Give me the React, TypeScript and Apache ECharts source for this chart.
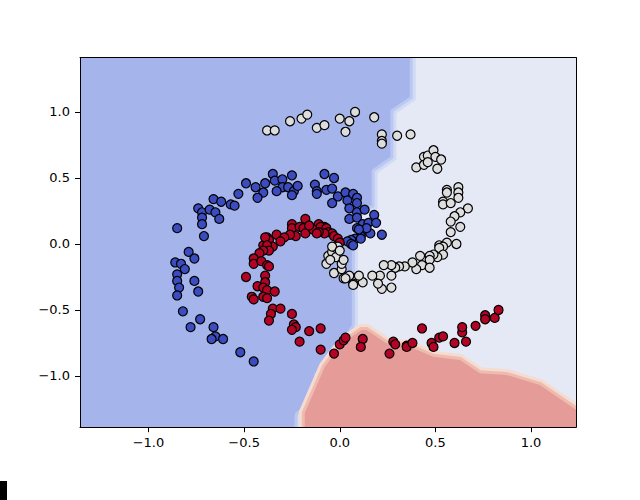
import React, { useEffect, useRef } from "react";
import * as echarts from "echarts";

const xTicks = [-1.0, -0.5, 0.0, 0.5, 1.0];
const yTicks = [-1.0, -0.5, 0.0, 0.5, 1.0];
const xRange = [-1.358, 1.235];
const yRange = [-1.388, 1.412];

const whitePoints = [
  [-0.38, 0.86], [-0.34, 0.86], [-0.26, 0.93], [-0.2, 0.95], [-0.17, 0.98], [-0.12, 0.88], [-0.08, 0.9],
  [0.0, 0.95], [0.05, 0.93], [0.08, 1.0], [0.03, 0.85], [0.18, 0.96], [0.22, 0.83], [0.22, 0.78], [0.22, 0.76],
  [0.3, 0.82], [0.37, 0.83], [0.4, 0.58], [0.44, 0.66], [0.44, 0.6], [0.46, 0.67], [0.49, 0.71], [0.5, 0.66],
  [0.53, 0.64], [0.51, 0.57], [0.46, 0.62], [0.56, 0.41], [0.56, 0.39], [0.62, 0.43], [0.62, 0.39], [0.62, 0.35],
  [0.54, 0.32], [0.54, 0.3], [0.58, 0.31], [0.67, 0.27], [0.63, 0.24], [0.6, 0.21], [0.58, 0.17], [0.63, 0.13],
  [0.58, 0.09], [0.52, -0.01], [0.56, 0.01], [0.61, 0.0], [0.54, -0.02], [0.52, -0.03], [0.54, -0.08],
  [0.51, -0.1], [0.49, -0.08], [0.47, -0.09], [0.47, -0.12], [0.42, -0.09], [0.43, -0.16], [0.4, -0.19],
  [0.47, -0.18], [0.38, -0.14], [0.34, -0.17], [0.31, -0.17], [0.29, -0.18], [0.27, -0.16], [0.27, -0.24],
  [0.23, -0.16], [0.21, -0.24], [0.22, -0.34], [0.2, -0.3], [0.17, -0.24], [0.27, -0.33], [0.12, -0.29],
  [0.08, -0.26], [0.07, -0.3], [0.05, -0.24], [0.02, -0.26], [-0.03, -0.22], [0.01, -0.19], [0.01, -0.15],
  [-0.07, -0.15], [-0.06, -0.09], [-0.04, -0.06], [-0.02, -0.1], [-0.02, -0.03], [-0.01, -0.02], [0.1, -0.24],
  [0.03, -0.26], [0.07, -0.31], [-0.04, -0.02], [0.0, -0.05], [-0.05, -0.12], [0.02, -0.12],
];

const bluePoints = [
  [-0.85, 0.12], [-0.71, 0.06], [-0.74, 0.27], [-0.72, 0.24], [-0.72, 0.2], [-0.72, 0.15], [-0.68, 0.26],
  [-0.65, 0.24], [-0.63, 0.19], [-0.66, 0.34], [-0.62, 0.32], [-0.57, 0.3], [-0.55, 0.29], [-0.53, 0.38],
  [-0.49, 0.46], [-0.44, 0.43], [-0.4, 0.39], [-0.43, 0.35], [-0.39, 0.46], [-0.35, 0.53], [-0.34, 0.48],
  [-0.3, 0.49], [-0.3, 0.43], [-0.33, 0.4], [-0.27, 0.43], [-0.25, 0.52], [-0.24, 0.4], [-0.25, 0.37],
  [-0.22, 0.44], [-0.13, 0.45], [-0.12, 0.4], [-0.12, 0.38], [-0.08, 0.53], [-0.07, 0.41], [-0.03, 0.5],
  [-0.04, 0.42], [-0.01, 0.36], [-0.04, 0.31], [0.03, 0.39], [0.04, 0.33], [0.07, 0.38], [0.09, 0.35],
  [0.09, 0.31], [0.05, 0.27], [0.09, 0.24], [0.13, 0.26], [0.05, 0.19], [0.09, 0.2], [0.12, 0.15], [0.09, 0.12],
  [0.15, 0.16], [0.18, 0.22], [0.19, 0.16], [0.12, 0.1], [0.16, 0.08], [0.22, 0.07], [0.11, 0.06], [0.08, 0.04],
  [0.06, 0.03], [0.04, 0.02], [0.06, 0.0], [0.11, 0.04], [0.14, 0.12], [0.1, 0.11], [0.07, -0.01],
  [-0.79, -0.06], [-0.76, -0.11], [-0.86, -0.14], [-0.83, -0.15], [-0.81, -0.19], [-0.85, -0.23], [-0.85, -0.28],
  [-0.76, -0.28], [-0.84, -0.33], [-0.74, -0.36], [-0.85, -0.39], [-0.82, -0.51], [-0.73, -0.57], [-0.78, -0.63],
  [-0.66, -0.63], [-0.65, -0.7], [-0.67, -0.72], [-0.61, -0.72], [-0.52, -0.82], [-0.45, -0.89],
];

const redPoints = [
  [-0.18, 0.19], [-0.25, 0.15], [-0.11, 0.15], [-0.08, 0.13], [-0.33, 0.07], [-0.38, 0.05], [-0.4, -0.01],
  [-0.25, 0.12], [-0.21, 0.13], [-0.19, 0.12], [-0.18, 0.08], [-0.23, 0.06], [-0.26, 0.07], [-0.29, 0.05],
  [-0.31, 0.02], [-0.37, 0.03], [-0.39, 0.05], [-0.35, -0.02], [-0.38, -0.01], [-0.37, -0.05], [-0.4, -0.05],
  [-0.42, -0.07], [-0.45, -0.11], [-0.45, -0.15], [-0.41, -0.13], [-0.38, -0.16], [-0.14, 0.11], [-0.1, 0.13],
  [-0.07, 0.12], [-0.06, 0.09], [-0.04, 0.08], [-0.03, 0.06], [-0.01, 0.04], [0.0, 0.01], [-0.08, 0.08],
  [-0.11, 0.09], [-0.16, 0.14], [-0.12, 0.08], [-0.37, -0.17], [-0.49, -0.25], [-0.43, -0.32], [-0.39, -0.24],
  [-0.39, -0.29], [-0.4, -0.33], [-0.38, -0.35], [-0.34, -0.36], [-0.46, -0.4], [-0.45, -0.42], [-0.4, -0.4],
  [-0.38, -0.41], [-0.35, -0.49], [-0.31, -0.49], [-0.36, -0.53], [-0.37, -0.58], [-0.25, -0.53], [-0.24, -0.61],
  [-0.23, -0.63], [-0.25, -0.65], [-0.16, -0.66], [-0.1, -0.64], [-0.21, -0.74], [-0.1, -0.8], [-0.03, -0.83],
  [0.0, -0.76], [0.02, -0.73], [0.03, -0.71], [0.12, -0.72], [0.11, -0.78], [0.26, -0.83], [0.28, -0.74],
  [0.29, -0.76], [0.35, -0.77], [0.35, -0.78], [0.38, -0.75], [0.43, -0.64], [0.48, -0.75], [0.49, -0.78],
  [0.52, -0.71], [0.54, -0.7], [0.6, -0.75], [0.66, -0.74], [0.64, -0.67], [0.64, -0.63], [0.71, -0.62],
  [0.76, -0.54], [0.76, -0.57], [0.81, -0.56], [0.83, -0.5],
];

const blueRegion = [
  [-1.6, 1.6], [0.366, 1.6], [0.366, 1.116], [0.265, 1.015], [0.265, 0.661], [0.166, 0.561], [0.166, 0.295],
  [0.063, 0.227], [0.063, -0.614], [-0.07, -0.904], [-0.131, -0.98], [-0.148, -1.182], [-0.235, -1.283],
  [-0.244, -1.6], [-1.6, -1.6],
];

const redRegion = [
  [-0.183, -1.6], [-0.183, -1.28], [-0.078, -0.93], [0.016, -0.75], [0.113, -0.652], [0.14, -0.652],
  [0.244, -0.752], [0.366, -0.778], [0.488, -0.854], [0.628, -0.879], [0.732, -0.98], [0.872, -0.992],
  [1.046, -1.068], [1.238, -1.258], [1.4, -1.38], [1.4, -1.6],
];

const regionStyles = [
  { poly: blueRegion, fill: "#a5b4ea", band1: "#d2dbf6", band2: "#bac8f2" },
  { poly: redRegion, fill: "#e59c99", band1: "#f5dcd3", band2: "#eebcae" },
];

const fmt = (v: number) => v.toFixed(1).replace("-", "\u2212");
const FONT = "DejaVu Sans";

export default function App() {
  const ref = useRef<HTMLDivElement>(null);
  useEffect(() => {
    if (!ref.current) return;
    const chart = echarts.init(ref.current, null, { renderer: "svg" });
    const scatter = (name: string, data: number[][], color: string) => ({
      type: "scatter",
      name,
      data,
      symbol: "circle",
      symbolSize: 9,
      itemStyle: { color, borderColor: "#000", borderWidth: 1.2, opacity: 1 },
      z: 5,
    });
    chart.setOption({
      animation: false,
      grid: {
        left: 80,
        top: 57.6,
        width: 496,
        height: 369.6,
        show: true,
        backgroundColor: "#e4e9f5",
        borderWidth: 0,
      },
      xAxis: [
        {
          type: "value",
          min: xRange[0],
          max: xRange[1],
          z: 10,
          axisLine: { show: true, onZero: false, lineStyle: { color: "#000", width: 1 } },
          axisTick: { show: true, length: 5, inside: false, customValues: xTicks, lineStyle: { color: "#000" } },
          axisLabel: {
            show: true,
            customValues: xTicks,
            formatter: fmt,
            margin: 9,
            color: "#000",
            fontFamily: FONT,
            fontSize: 13,
          },
          splitLine: { show: false },
        },
        {
          type: "value",
          position: "top",
          min: xRange[0],
          max: xRange[1],
          z: 10,
          axisLine: { show: true, onZero: false, lineStyle: { color: "#000", width: 1 } },
          axisTick: { show: false },
          axisLabel: { show: false },
          splitLine: { show: false },
        },
      ],
      yAxis: [
        {
          type: "value",
          min: yRange[0],
          max: yRange[1],
          z: 10,
          axisLine: { show: true, onZero: false, lineStyle: { color: "#000", width: 1 } },
          axisTick: { show: true, length: 5, inside: false, customValues: yTicks, lineStyle: { color: "#000" } },
          axisLabel: {
            show: true,
            customValues: yTicks,
            formatter: fmt,
            margin: 10,
            color: "#000",
            fontFamily: FONT,
            fontSize: 13,
          },
          splitLine: { show: false },
        },
        {
          type: "value",
          position: "right",
          min: yRange[0],
          max: yRange[1],
          z: 10,
          axisLine: { show: true, onZero: false, lineStyle: { color: "#000", width: 1 } },
          axisTick: { show: false },
          axisLabel: { show: false },
          splitLine: { show: false },
        },
      ],
      graphic: [
        { type: "rect", left: 0, top: 481, shape: { width: 7, height: 19 }, style: { fill: "#000" } },
      ],
      series: [
        {
          type: "custom",
          clip: true,
          z: 1,
          data: [[0, 0], [0, 0]],
          renderItem: (params: any, api: any) => {
            const r = regionStyles[params.dataIndex];
            const pts = r.poly.map((p) => api.coord(p));
            return {
              type: "group",
              children: [
                { type: "polygon", shape: { points: pts }, style: { fill: "none", stroke: r.band1, lineWidth: 12, lineJoin: "miter" } },
                { type: "polygon", shape: { points: pts }, style: { fill: "none", stroke: r.band2, lineWidth: 6, lineJoin: "miter" } },
                { type: "polygon", shape: { points: pts }, style: { fill: r.fill, stroke: "none" } },
              ],
            };
          },
        },
        scatter("blue", bluePoints, "#3b4cc0"),
        scatter("red", redPoints, "#b40426"),
        scatter("white", whitePoints, "#dddddd"),
      ],
    });
    return () => chart.dispose();
  }, []);
  return (
    <div
      ref={ref}
      style={{ position: "absolute", left: 0, top: 0, width: 640, height: 500 }}
    />
  );
}
